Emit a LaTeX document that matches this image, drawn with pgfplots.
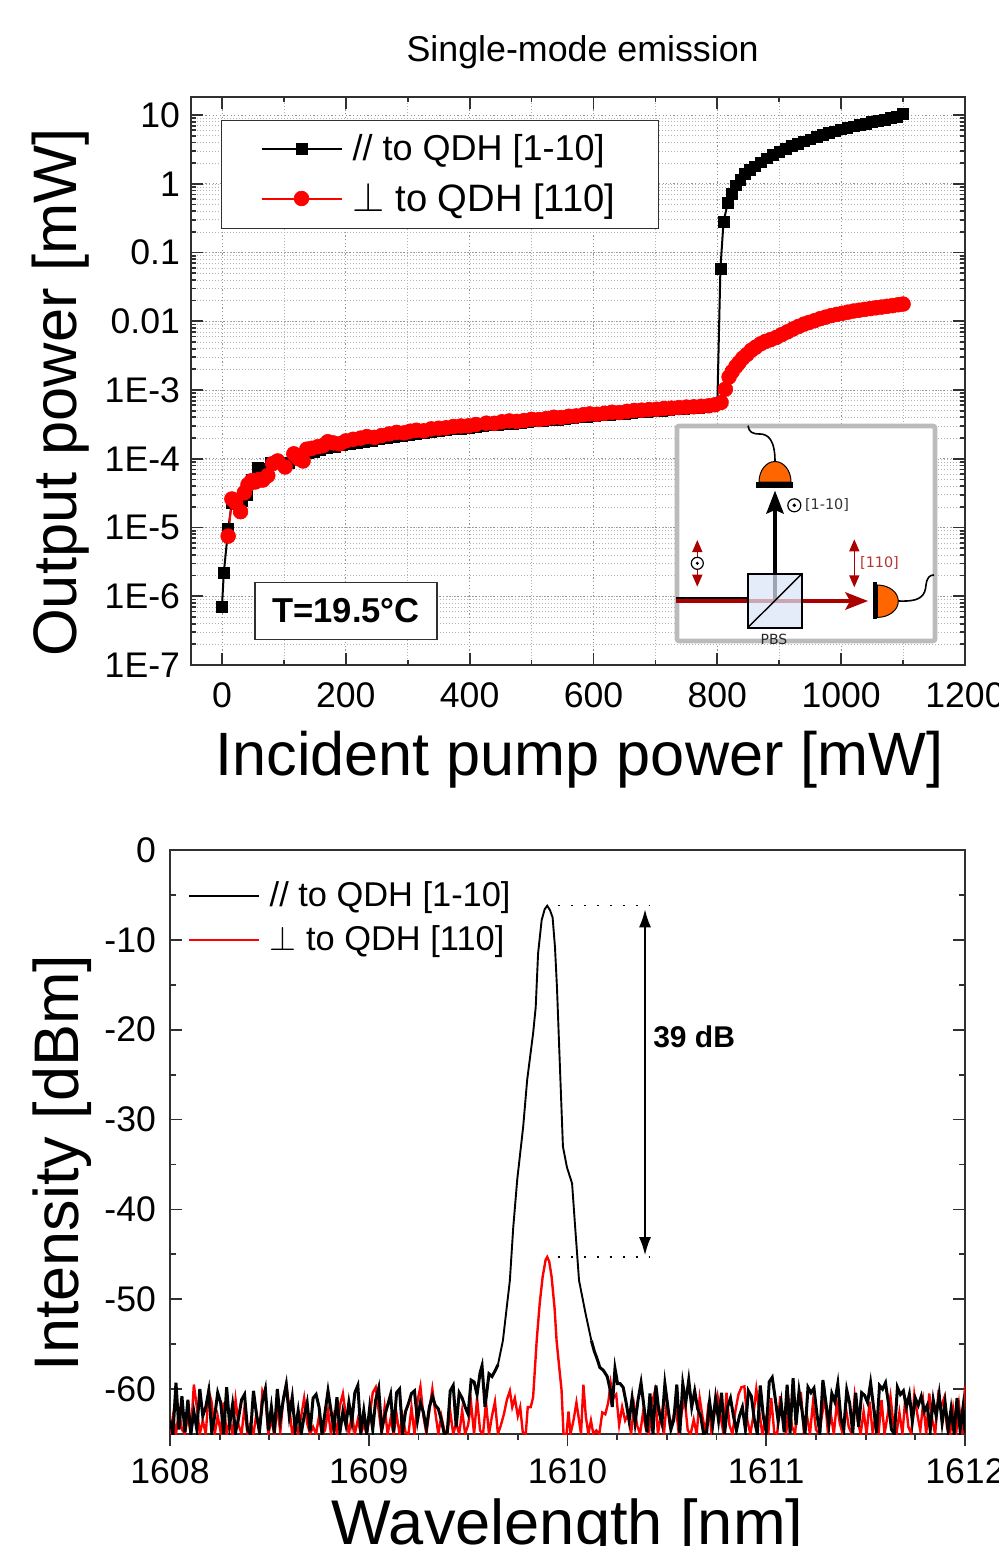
\documentclass[border=0pt]{standalone}
\usepackage{fontspec}
\setmainfont{Liberation Sans}
\newfontfamily\dejavu{DejaVu Sans}
\usepackage{pgfplots}
\pgfplotsset{compat=1.18}
\usetikzlibrary{arrows.meta}
\definecolor{beamred}{HTML}{AA0000}
\definecolor{detorange}{HTML}{FF6600}
\definecolor{cubeblue}{HTML}{DAE5F8}
\definecolor{framegray}{HTML}{BBBBBB}
\definecolor{axisgray}{HTML}{303030}
% 1 px of the reference = 0.5pt
\pgfplotsset{
    bothpanels/.style={
        scale only axis,
        axis line style={axisgray, line width=1.2pt},
        tick style={axisgray, line width=0.9pt},
        legend cell align=left,
        every axis title shift=0pt,
        tick label style={font=\fontsize{17.8}{20}\selectfont},
        xlabel style={anchor=base},
        ylabel style={anchor=center},
    },
}
\begin{document}
\begin{tikzpicture}[x=0.5pt,y=-0.5pt]
\path[use as bounding box,clip] (0,0) rectangle (998,1546);

% upper panel
\begin{axis}[
    bothpanels,
    at={(95.5pt,-332.5pt)}, anchor=south west,
    width=387pt, height=284pt,
    xmin=-50, xmax=1200,
    ymode=log, ymin=1e-7, ymax=18.3,
    xtick={0,200,400,600,800,1000,1200},
    xticklabels={0,200,400,600,800,1000,1200},
    minor x tick num=1,
    ytick={1e-7,1e-6,1e-5,1e-4,1e-3,1e-2,1e-1,1,10},
    yticklabels={1E-7,1E-6,1E-5,1E-4,1E-3,0.01,0.1,1,10},
    tick align=inside, xtick pos=both, ytick pos=both,
    major tick length=6pt, minor tick length=2.6pt,
    xticklabel style={yshift=-5.5pt},
    yticklabel style={xshift=-2pt},
    grid=both,
    major grid style={gray!85, line width=0.35pt, dash pattern=on 0.6pt off 1.2pt},
    minor grid style={gray!60, line width=0.25pt, dash pattern=on 0.5pt off 1pt},
    xlabel={Incident pump power [mW]},
    ylabel={Output power [mW]},
    xlabel style={font=\fontsize{30.6}{34}\selectfont, at={(axis description cs:0.502,-0.195)}},
    ylabel style={font=\fontsize{30.7}{34}\selectfont, at={(axis description cs:-0.169,0.48)}},
    title={\fontsize{17.9}{20}\selectfont Single-mode emission},
    title style={at={(axis description cs:0.506,1.078)}, anchor=center},
    legend image code/.code={\draw[mark repeat=2,mark phase=2,#1] plot coordinates {(0pt,0pt) (20pt,0pt) (40pt,0pt)};},
    legend style={at={(0.0388,0.9595)}, anchor=north west, draw=axisgray, line width=0.5pt,
        font=\fontsize{18}{21}\selectfont, inner xsep=19.5pt, inner ysep=5pt, row sep=5.5pt,
        /tikz/column 1/.style={column sep=3pt}},
]
\addplot[black, line width=1pt, mark=square*, mark size=2.7pt, mark options={solid, line width=0.3pt}] coordinates {
(0,7e-7)(3,2.2e-6)(10,9.5e-6)(16,2.3e-5)(24,2.2e-5)(32,2.4e-5)(40,3e-5)(48,5e-5)(58,7.5e-5)(68,7.2e-5)
(78,8.8e-5)(88,8.6e-5)(98,8.8e-5)(108,8.6e-5)(118,1e-4)(128,1.12e-4)(138,1.2e-4)(148,1.28e-4)(158,1.33e-4)
(170,1.42e-4)(182,1.5e-4)(194,1.57e-4)(206,1.65e-4)(218,1.72e-4)(230,1.78e-4)(242,1.85e-4)(254,1.92e-4)
(266,2e-4)(278,2.08e-4)(290,2.15e-4)(302,2.22e-4)(314,2.3e-4)(326,2.37e-4)(338,2.45e-4)(350,2.52e-4)
(362,2.6e-4)(374,2.68e-4)(386,2.75e-4)(398,2.85e-4)(410,2.92e-4)(422,3e-4)(434,3.06e-4)(446,3.12e-4)
(458,3.2e-4)(470,3.26e-4)(482,3.32e-4)(494,3.4e-4)(506,3.5e-4)(518,3.58e-4)(530,3.65e-4)(542,3.72e-4)
(554,3.8e-4)(566,3.9e-4)(578,4e-4)(590,4.08e-4)(602,4.2e-4)(614,4.28e-4)(626,4.35e-4)(638,4.45e-4)
(650,4.55e-4)(662,4.65e-4)(674,4.75e-4)(686,4.85e-4)(698,4.95e-4)(710,5.05e-4)(722,5.15e-4)(734,5.25e-4)
(746,5.35e-4)(758,5.45e-4)(770,5.55e-4)(782,5.65e-4)(792,5.8e-4)(800,6.2e-4)
(805,0.058)(810,0.28)(817,0.53)(823,0.72)(830,0.95)(837,1.15)(845,1.4)(853,1.6)(861,1.8)(870,2.05)
(880,2.35)(890,2.65)(900,2.95)(910,3.25)(920,3.55)(930,3.85)(940,4.15)(950,4.45)(960,4.8)(970,5.1)
(980,5.45)(990,5.8)(1000,6.2)(1010,6.5)(1020,6.85)(1030,7.2)(1040,7.55)(1050,7.9)(1060,8.25)(1070,8.6)
(1080,9)(1090,9.5)(1100,10.3)
};
\addlegendentry{// to QDH [1-10]}
\addplot[red, line width=1pt, mark=*, mark size=3.7pt, mark options={solid, line width=0.3pt}] coordinates {
(10,7.5e-6)(16,2.6e-5)(22,2.3e-5)(30,1.7e-5)(36,3.2e-5)(42,4.2e-5)(48,4.8e-5)(54,4.6e-5)(60,5e-5)(66,4.9e-5)
(74,5.7e-5)(82,8.5e-5)(90,9.3e-5)(102,7.6e-5)(116,1.18e-4)(124,1e-4)(131,9.3e-5)(137,1.38e-4)(145,1.42e-4)
(155,1.5e-4)(163,1.55e-4)(171,1.77e-4)(180,1.7e-4)(190,1.65e-4)(200,1.82e-4)(212,1.92e-4)(224,2e-4)
(234,2.1e-4)(246,2.05e-4)(258,2.18e-4)(270,2.3e-4)(282,2.42e-4)(294,2.38e-4)(304,2.52e-4)(314,2.6e-4)
(326,2.55e-4)(338,2.72e-4)(350,2.78e-4)(362,2.82e-4)(374,2.95e-4)(386,3e-4)(398,3.02e-4)(410,3.15e-4)
(427,3.3e-4)(440,3.28e-4)(452,3.45e-4)(464,3.55e-4)(476,3.5e-4)(488,3.6e-4)(500,3.75e-4)(512,3.72e-4)
(524,3.85e-4)(536,4.02e-4)(548,3.98e-4)(560,4.15e-4)(572,4.2e-4)(584,4.38e-4)(594,4.5e-4)(606,4.45e-4)
(618,4.6e-4)(630,4.75e-4)(642,4.7e-4)(654,4.9e-4)(666,5.05e-4)(678,5.1e-4)(690,5.2e-4)(702,5.25e-4)
(714,5.4e-4)(726,5.45e-4)(738,5.55e-4)(750,5.65e-4)(762,5.7e-4)(774,5.8e-4)(786,5.9e-4)(796,6.1e-4)(806,6.6e-4)
(813,1.03e-3)(819,1.55e-3)(824,1.85e-3)(830,2.2e-3)(835,2.5e-3)(841,2.9e-3)(848,3.3e-3)(855,3.8e-3)
(862,4.2e-3)(870,4.7e-3)(878,5.1e-3)(886,5.4e-3)(895,5.8e-3)(904,6.4e-3)(913,7e-3)(922,7.7e-3)(931,8.4e-3)
(940,9.1e-3)(948,9.6e-3)(957,1.02e-2)(966,1.09e-2)(975,1.15e-2)(984,1.21e-2)(993,1.26e-2)(1002,1.31e-2)
(1011,1.36e-2)(1020,1.41e-2)(1029,1.45e-2)(1038,1.49e-2)(1047,1.53e-2)(1056,1.57e-2)(1065,1.61e-2)
(1074,1.65e-2)(1083,1.69e-2)(1092,1.74e-2)(1100,1.78e-2)
};
\addlegendentry{\fontsize{19.1}{21}\selectfont$\perp$ to QDH [110]}
\end{axis}

\node[draw=axisgray, line width=0.6pt, fill=white, minimum width=91pt, minimum height=28.5pt,
    inner sep=0pt, font=\fontsize{17.3}{20}\selectfont\bfseries] at (346,611) {T=19.5°C};

% inset: polarising beam splitter sketch
\draw[framegray, line width=2.3pt, fill=white, rounded corners=1pt] (677,426) rectangle (935,641);
\draw[black, line width=1.3pt] (676,598.5) -- (748,598.5);
\draw[beamred, line width=1.6pt] (676,601) -- (850,601);
\fill[beamred] (868,601) -- (845,592) -- (850,601) -- (845,610) -- cycle;
\draw[black, line width=1.7pt] (775,600) -- (775,510);
\fill[black] (775,490.7) -- (784,514) -- (775,510) -- (766,514) -- cycle;
\draw[black, line width=0.8pt, fill=cubeblue, fill opacity=0.72] (747.7,574) rectangle (801.7,627.7);
\draw[black, line width=0.7pt] (747.7,627.7) -- (801.7,574);
% upper detector
\draw[black, line width=0.5pt, fill=detorange] (759,482) arc[start angle=180, end angle=0, x radius=16, y radius=-20.5] -- cycle;
\fill[black] (755.7,482) rectangle (793,487.5);
\draw[black, line width=0.8pt] (775,461.5) .. controls (775,440) and (768,434) .. (760,434) .. controls (752,434) and (749,432) .. (748,425.7);
% right detector
\draw[black, line width=0.5pt, fill=detorange] (877.3,585) arc[start angle=90, end angle=-90, x radius=21, y radius=-16.2] -- cycle;
\fill[black] (872.7,581.7) rectangle (877.3,619.3);
\draw[black, line width=0.8pt] (898.3,601) .. controls (922,602) and (925,595) .. (926,585) .. controls (927,577) and (930,575) .. (934,575);
% polarisation marks
\draw[beamred, line width=0.7pt, {Triangle[width=5pt,length=6pt]}-{Triangle[width=5pt,length=6pt]}] (697.3,540) -- (697.3,586.7);
\draw[black, line width=0.6pt, fill=white] (697.3,563.3) circle (6);
\fill[black] (697.3,563.3) circle (1.7);
\draw[beamred, line width=0.7pt, {Triangle[width=5pt,length=6pt]}-{Triangle[width=5pt,length=6pt]}] (854.3,539.3) -- (854.3,587.3);
\draw[black, line width=0.6pt, fill=white] (794.3,505.3) circle (6.5);
\fill[black] (794.3,505.3) circle (1.9);
\node[font=\dejavu\fontsize{7.2}{9}\selectfont, text=black!80, inner sep=0pt] at (827,505) {[1-10]};
\node[font=\dejavu\fontsize{7.2}{9}\selectfont, text=beamred!80, inner sep=0pt] at (879.5,563) {[110]};
\node[font=\dejavu\fontsize{7}{9}\selectfont, text=black!85, inner sep=0pt] at (774,639) {PBS};

% lower panel
\begin{axis}[
    bothpanels,
    at={(85pt,-717pt)}, anchor=south west,
    width=397.5pt, height=292pt,
    xmin=1608, xmax=1612, ymin=-65, ymax=0,
    xtick={1608,1609,1610,1611,1612},
    xticklabels={1608,1609,1610,1611,1612},
    minor x tick num=3,
    ytick={-60,-50,-40,-30,-20,-10,0},
    yticklabels={-60,-50,-40,-30,-20,-10,0},
    minor y tick num=1,
    tick align=inside, xtick pos=bottom, ytick pos=both,
    major tick length=6pt, minor tick length=3pt,
    major x tick style={yshift=-6pt},
    minor x tick style={yshift=-3pt},
    xticklabel style={yshift=-9pt},
    yticklabel style={xshift=-3.5pt},
    xlabel={Wavelength [nm]},
    ylabel={Intensity [dBm]},
    xlabel style={font=\fontsize{31.6}{35}\selectfont, at={(axis description cs:0.5,-0.19)}},
    ylabel style={font=\fontsize{31.5}{35}\selectfont, at={(axis description cs:-0.136,0.464)}},
    legend image code/.code={\draw[#1] (0pt,0pt) -- (35pt,0pt);},
    legend style={at={(0.0225,0.953)}, anchor=north west, draw=none, fill=none, inner sep=0pt,
        font=\fontsize{17.2}{20}\selectfont, row sep=4pt,
        /tikz/column 1/.style={column sep=2.5pt}},
]
\addlegendimage{black, line width=0.9pt}
\addlegendentry{// to QDH [1-10]}
\addplot[red, line width=1.2pt] coordinates {
(1608.000,-65)(1608.015,-63)(1608.030,-65)(1608.045,-62.5)(1608.060,-64.5)(1608.075,-65)(1608.090,-63)(1608.105,-65)(1608.120,-59.5)(1608.135,-62)
(1608.150,-65)(1608.165,-63.5)(1608.180,-65)(1608.195,-60.2)(1608.210,-61.5)(1608.225,-65)(1608.240,-63)(1608.255,-64.8)(1608.270,-61.5)(1608.285,-65)
(1608.300,-63.5)(1608.315,-65)(1608.330,-61.2)(1608.345,-64)(1608.360,-65)(1608.375,-62)(1608.390,-65)(1608.405,-63.8)(1608.420,-65)(1608.435,-62.7)
(1608.450,-65)(1608.465,-60.2)(1608.480,-61)(1608.495,-65)(1608.510,-63.4)(1608.525,-65)(1608.540,-62)(1608.555,-64.8)(1608.570,-61)(1608.585,-59.4)
(1608.600,-62)(1608.615,-65)(1608.630,-63.6)(1608.645,-65)(1608.660,-63)(1608.675,-61)(1608.690,-63.8)(1608.705,-65)(1608.720,-64.2)(1608.735,-65)
(1608.750,-63)(1608.765,-65)(1608.780,-64.6)(1608.795,-62.4)(1608.810,-65)(1608.825,-63)(1608.840,-65)(1608.855,-61.8)(1608.870,-60.5)(1608.885,-63)
(1608.900,-65)(1608.915,-62.8)(1608.930,-65)(1608.945,-63.4)(1608.960,-65)(1608.975,-64)(1608.990,-65)(1609.005,-63)(1609.020,-60.4)(1609.035,-59.8)
(1609.050,-62.4)(1609.065,-65)(1609.080,-62)(1609.095,-65)(1609.110,-63.3)(1609.125,-65)(1609.140,-62.8)(1609.155,-65)(1609.170,-63)(1609.185,-64.8)
(1609.200,-65)(1609.215,-62)(1609.230,-65)(1609.245,-61.4)(1609.260,-59.7)(1609.275,-63)(1609.290,-65)(1609.305,-62.4)(1609.320,-60)(1609.335,-62.6)
(1609.350,-65)(1609.365,-63)(1609.380,-64.6)(1609.395,-65)(1609.410,-62.5)(1609.425,-65)(1609.440,-63.8)(1609.455,-65)(1609.470,-62.4)(1609.485,-65)
(1609.500,-64)(1609.515,-61.6)(1609.530,-65)(1609.545,-61)(1609.560,-64.6)(1609.575,-65)(1609.590,-61.5)(1609.605,-65)(1609.620,-63)(1609.635,-61.4)
(1609.650,-65)(1609.665,-64)(1609.680,-62.8)(1609.695,-61.2)(1609.710,-60.2)(1609.722,-62)(1609.735,-61)(1609.750,-63)(1609.762,-62)(1609.775,-64.8)
(1609.790,-65)(1609.800,-62)(1609.815,-62)(1609.827,-60.9)(1609.845,-54.6)(1609.860,-50.5)(1609.875,-47.5)(1609.890,-45.6)(1609.898,-45.3)(1609.908,-45.8)
(1609.920,-47.5)(1609.935,-51)(1609.945,-54.6)(1609.958,-57.5)(1609.970,-60.1)(1609.980,-65)(1609.995,-65)(1610.005,-62.5)(1610.015,-65)(1610.030,-63.5)
(1610.045,-61.5)(1610.055,-63)(1610.068,-65)(1610.080,-59.5)(1610.092,-63)(1610.105,-65)(1610.118,-63.5)(1610.130,-65)(1610.145,-64.6)(1610.160,-65)
(1610.175,-62.6)(1610.190,-62.8)(1610.205,-61.5)(1610.217,-59.3)(1610.230,-61)(1610.245,-60.6)(1610.260,-64)(1610.275,-62)(1610.290,-63.5)(1610.305,-62.8)
(1610.320,-65)(1610.335,-61.8)(1610.350,-64)(1610.365,-65)(1610.380,-62.6)(1610.395,-64.5)(1610.410,-65)(1610.425,-61.5)(1610.440,-60.2)(1610.455,-65)
(1610.470,-62.8)(1610.485,-65)(1610.500,-61.3)(1610.515,-64)(1610.530,-63.4)(1610.545,-61.8)(1610.560,-65)(1610.575,-62.5)(1610.590,-61.2)(1610.605,-64.6)
(1610.620,-65)(1610.635,-63.4)(1610.650,-65)(1610.665,-61)(1610.680,-63.2)(1610.695,-64.8)(1610.710,-61.5)(1610.725,-65)(1610.740,-62.6)(1610.755,-60.8)
(1610.770,-63)(1610.785,-65)(1610.800,-60.4)(1610.815,-64)(1610.830,-65)(1610.845,-62.4)(1610.860,-60.6)(1610.875,-59.8)(1610.890,-59.7)(1610.905,-63.5)
(1610.920,-65)(1610.935,-63)(1610.950,-60)(1610.965,-62.5)(1610.980,-65)(1610.995,-63.4)(1611.010,-65)(1611.025,-61)(1611.040,-64.8)(1611.055,-65)
(1611.070,-60.8)(1611.085,-63.6)(1611.100,-65)(1611.115,-61.6)(1611.130,-64.2)(1611.145,-65)(1611.160,-61)(1611.175,-60.6)(1611.190,-65)(1611.205,-63)
(1611.220,-65)(1611.235,-61.5)(1611.250,-64.5)(1611.265,-65)(1611.280,-63)(1611.295,-60.8)(1611.310,-64.8)(1611.325,-62.8)(1611.340,-65)(1611.355,-61.6)
(1611.370,-63.8)(1611.385,-65)(1611.400,-62)(1611.415,-64.2)(1611.430,-65)(1611.445,-60.8)(1611.460,-63.5)(1611.475,-65)(1611.490,-62.5)(1611.505,-65)
(1611.520,-61.4)(1611.535,-64.8)(1611.550,-63)(1611.565,-65)(1611.580,-61.2)(1611.595,-65)(1611.610,-63)(1611.625,-60.8)(1611.640,-64)(1611.655,-65)
(1611.670,-62.6)(1611.685,-65)(1611.700,-61)(1611.715,-64.2)(1611.730,-65)(1611.745,-60.6)(1611.760,-62.8)(1611.775,-64.6)(1611.790,-61.5)(1611.805,-65)
(1611.820,-60.5)(1611.835,-63.4)(1611.850,-65)(1611.865,-60.8)(1611.880,-62)(1611.895,-61)(1611.910,-64.4)(1611.925,-65)(1611.940,-62.2)(1611.955,-65)
(1611.970,-61.8)(1611.985,-65)(1612.000,-59.7)
};
\addlegendentry{$\perp$ to QDH [110]}
% black trace: the noisy floor is drawn heavier than the peak, as in the picture
\addplot[black, line width=1.5pt, forget plot] coordinates {
(1608.000,-63.5)(1608.015,-65)(1608.030,-59.3)(1608.045,-64.5)(1608.060,-60.8)(1608.075,-64.8)(1608.090,-61.2)(1608.105,-65)(1608.120,-62.5)(1608.135,-64.5)
(1608.150,-60)(1608.165,-63)(1608.180,-62)(1608.195,-60.2)(1608.210,-64.8)(1608.225,-63)(1608.240,-60.4)(1608.255,-61.5)(1608.270,-65)(1608.285,-59.8)
(1608.300,-64)(1608.315,-61.7)(1608.330,-64.8)(1608.345,-63.2)(1608.360,-61.2)(1608.375,-60.6)(1608.390,-64.5)(1608.405,-65)(1608.420,-60.2)(1608.435,-62.8)
(1608.450,-64.7)(1608.465,-61.4)(1608.480,-60)(1608.495,-64.6)(1608.510,-62)(1608.525,-64.9)(1608.540,-60)(1608.555,-63.4)(1608.570,-61.2)(1608.585,-59.5)
(1608.600,-63)(1608.615,-60.9)(1608.630,-64.6)(1608.645,-62.4)(1608.660,-65)(1608.675,-63)(1608.690,-61.5)(1608.705,-64.7)(1608.720,-61)(1608.735,-60.6)
(1608.750,-62)(1608.765,-65)(1608.780,-62.6)(1608.795,-60.2)(1608.810,-62.4)(1608.825,-64.5)(1608.840,-60.9)(1608.855,-64.8)(1608.870,-62.5)(1608.885,-64)
(1608.900,-61.5)(1608.915,-63.6)(1608.930,-60.4)(1608.945,-59.6)(1608.960,-64.8)(1608.975,-62.4)(1608.990,-65)(1609.005,-62)(1609.020,-64.5)(1609.035,-61.2)
(1609.050,-59.9)(1609.065,-64.6)(1609.080,-63)(1609.095,-61.8)(1609.110,-60.6)(1609.125,-64.8)(1609.140,-60.4)(1609.155,-60)(1609.170,-64.9)(1609.185,-62.5)
(1609.200,-61.6)(1609.215,-60.5)(1609.230,-60.2)(1609.245,-63.5)(1609.260,-61.5)(1609.275,-62.6)(1609.290,-64.4)(1609.305,-62)(1609.320,-60.8)(1609.335,-61.8)
(1609.350,-62.2)(1609.365,-63.4)(1609.380,-65)(1609.395,-64.8)(1609.410,-60.2)(1609.425,-59.6)(1609.440,-64.2)(1609.455,-60.4)(1609.470,-61)(1609.485,-62)
(1609.500,-62.8)(1609.515,-59)(1609.530,-59.2)(1609.545,-60.6)(1609.560,-58.2)(1609.570,-57.4)(1609.585,-62)(1609.605,-58.3)(1609.620,-58.6)(1609.635,-58)
(1609.650,-57.3)
};
\addplot[black, line width=0.95pt, forget plot] coordinates {
(1609.650,-57.3)(1609.675,-54.6)(1609.710,-47.9)(1609.727,-42)(1609.747,-36.7)(1609.777,-30.8)(1609.797,-25.6)(1609.827,-20.4)(1609.840,-17.5)(1609.852,-11.5)
(1609.870,-7.8)(1609.885,-6.6)(1609.898,-6.2)(1609.912,-6.7)(1609.925,-7.5)(1609.937,-10.8)(1609.947,-15.3)(1609.962,-24.2)(1609.977,-33)(1609.997,-35.3)
(1610.023,-37.1)(1610.037,-41.5)(1610.058,-47.9)(1610.090,-51.5)(1610.120,-54.6)
};
\addplot[black, line width=1.5pt, forget plot] coordinates {
(1610.120,-54.6)(1610.135,-55.8)(1610.147,-56.5)(1610.163,-57.6)(1610.180,-57.9)(1610.200,-58.6)
(1610.214,-60)(1610.225,-62)(1610.239,-57.7)(1610.252,-59.4)(1610.265,-59.4)(1610.280,-59.8)(1610.295,-61.5)(1610.310,-63.5)(1610.325,-61)(1610.340,-63.8)
(1610.355,-61.2)(1610.370,-59.3)(1610.385,-62)(1610.400,-64.8)(1610.415,-60.5)(1610.430,-65)(1610.445,-59.6)(1610.460,-62.5)(1610.475,-63.8)(1610.490,-59.4)
(1610.505,-62)(1610.520,-64.5)(1610.535,-63.4)(1610.550,-59.5)(1610.565,-64.9)(1610.580,-59.4)(1610.595,-61.5)(1610.610,-59)(1610.625,-62)(1610.640,-60.2)
(1610.655,-62.2)(1610.670,-63)(1610.685,-65)(1610.700,-64.8)(1610.715,-61.4)(1610.730,-64)(1610.745,-61)(1610.760,-63.5)(1610.775,-60.4)(1610.790,-65)
(1610.805,-62)(1610.820,-61)(1610.835,-63)(1610.850,-64.6)(1610.865,-63)(1610.880,-62)(1610.895,-64.5)(1610.910,-60.2)(1610.925,-60.8)(1610.940,-63.4)
(1610.955,-65)(1610.970,-59.6)(1610.985,-63)(1611.000,-64.8)(1611.015,-59.2)(1611.030,-58.7)(1611.045,-61)(1611.060,-63.6)(1611.075,-61.5)(1611.090,-64.8)
(1611.105,-59.5)(1611.120,-64.9)(1611.135,-58.8)(1611.150,-64)(1611.165,-60.2)(1611.180,-62.4)(1611.195,-65)(1611.210,-59.8)(1611.225,-60.4)(1611.240,-59.9)
(1611.255,-62.8)(1611.270,-64.9)(1611.285,-59)(1611.300,-61.5)(1611.315,-64)(1611.330,-60.5)(1611.345,-61.4)(1611.360,-59.4)(1611.375,-63.2)(1611.390,-64.5)
(1611.405,-60.1)(1611.420,-61.6)(1611.435,-64.9)(1611.450,-60.4)(1611.465,-64.2)(1611.480,-60.4)(1611.495,-60.7)(1611.510,-61.5)(1611.525,-59.3)(1611.540,-62)
(1611.555,-64.9)(1611.570,-59.6)(1611.585,-60)(1611.600,-59.3)(1611.615,-61.6)(1611.630,-64.5)(1611.645,-65)(1611.660,-59.8)(1611.675,-60.6)(1611.690,-60.2)
(1611.705,-62)(1611.720,-60.6)(1611.735,-63.6)(1611.750,-61)(1611.765,-61.8)(1611.780,-60.8)(1611.795,-62.5)(1611.810,-61.8)(1611.825,-64.6)(1611.840,-61.2)
(1611.855,-63)(1611.870,-60.6)(1611.885,-63.8)(1611.900,-61.5)(1611.915,-64.6)(1611.930,-62.2)(1611.945,-64.9)(1611.960,-61)(1611.975,-64.5)(1611.990,-62)
(1612.000,-64.9)
};
\draw[black, line width=0.7pt, dash pattern=on 1.2pt off 5.3pt] (axis cs:1609.95,-6.2) -- (axis cs:1610.41,-6.2);
\draw[black, line width=0.7pt, dash pattern=on 1.2pt off 5.3pt] (axis cs:1609.95,-45.3) -- (axis cs:1610.41,-45.3);
\draw[black, line width=0.9pt, {Latex[length=9pt,width=6pt]}-{Latex[length=9pt,width=6pt]}] (axis cs:1610.39,-6.6) -- (axis cs:1610.39,-45.1);
\node[font=\fontsize{15}{18}\selectfont\bfseries, inner sep=0pt] at (axis cs:1610.637,-20.8) {39 dB};
\end{axis}
\end{tikzpicture}
\end{document}
